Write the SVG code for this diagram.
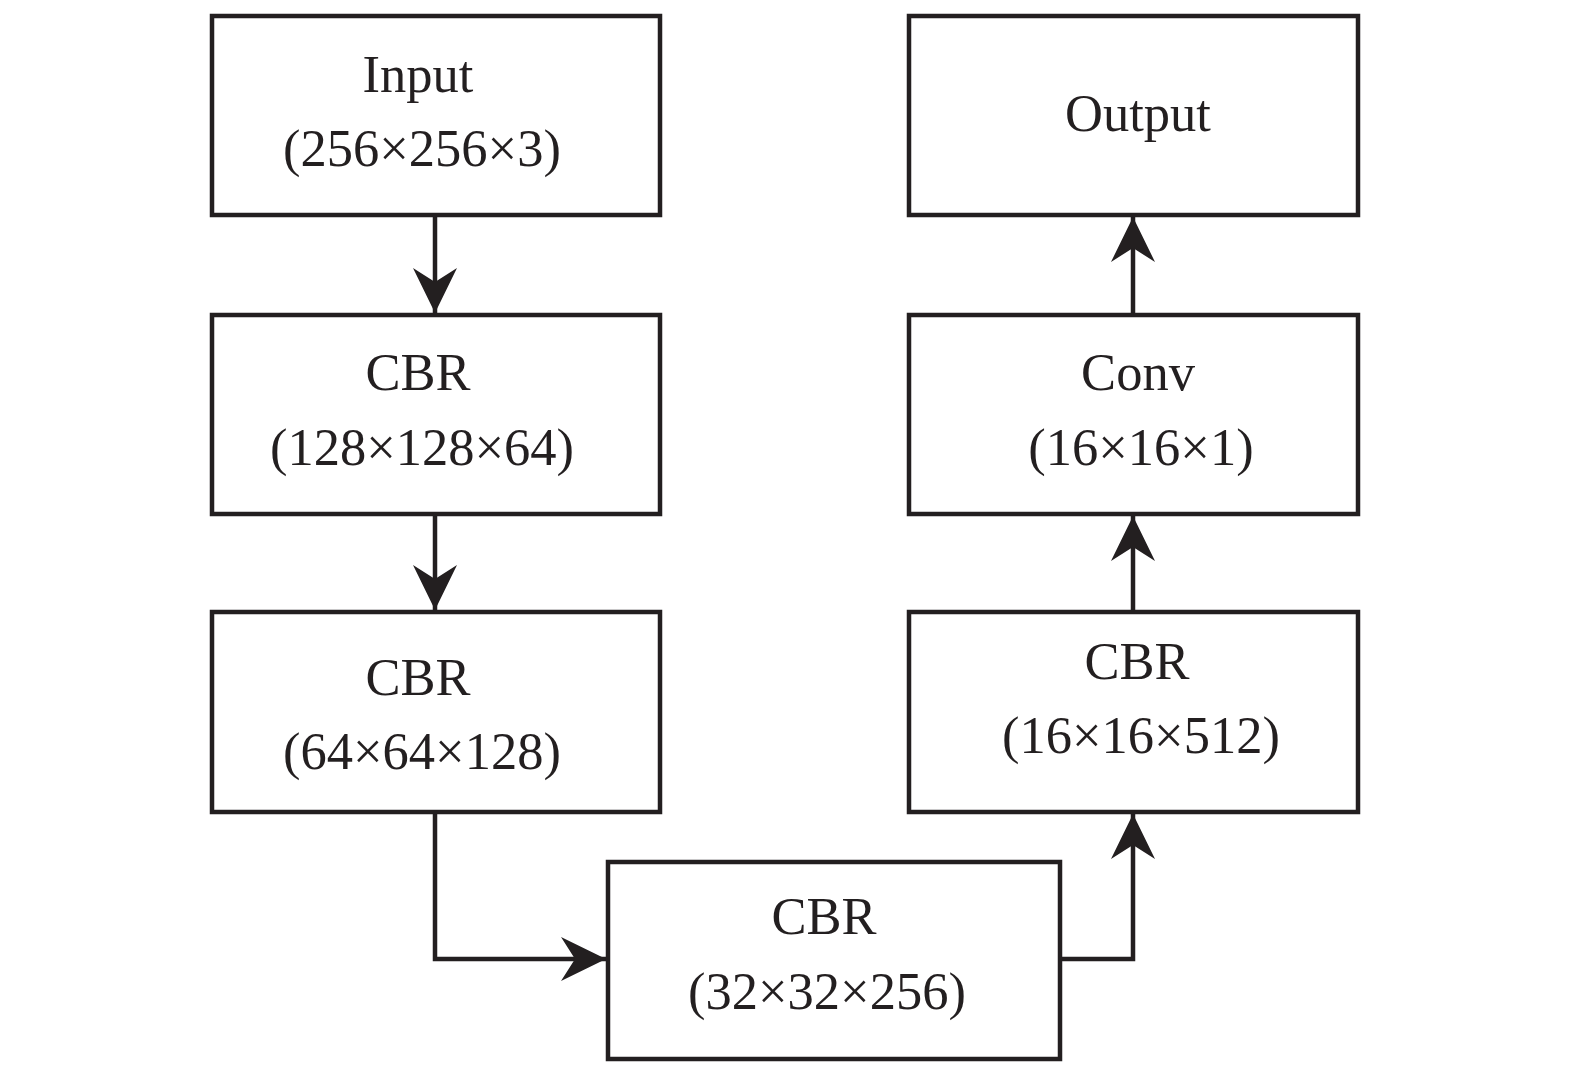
<svg xmlns="http://www.w3.org/2000/svg" width="1575" height="1070" viewBox="0 0 1575 1070">
<style>
.box{fill:#fff;stroke:#231f20;stroke-width:4.5}
.t{font-family:"Liberation Serif","Times New Roman",serif;font-size:52.5px;fill:#231f20;text-anchor:middle}
.c{fill:none;stroke:#231f20;stroke-width:4.5}
</style>
<defs>
<marker id="ah" markerUnits="userSpaceOnUse" viewBox="0 0 45 44" refX="45" refY="22" markerWidth="45" markerHeight="44" orient="auto">
<path d="M0,0 L45,22 L0,44 L14,22 z" fill="#231f20"/>
</marker>
</defs>
<rect width="1575" height="1070" fill="#fff"/>
<g id="connectors">
<path class="c" d="M435,215 V313" marker-end="url(#ah)"/>
<path class="c" d="M435,514 V610" marker-end="url(#ah)"/>
<path class="c" d="M435,812 V959 H606" marker-end="url(#ah)"/>
<path class="c" d="M1060,959 H1133 V814" marker-end="url(#ah)"/>
<path class="c" d="M1133,612 V516" marker-end="url(#ah)"/>
<path class="c" d="M1133,315 V217" marker-end="url(#ah)"/>
</g>
<g id="input">
<rect class="box" x="212" y="16" width="448" height="199"/>
<text class="t" x="418" y="92">Input</text>
<text class="t" x="422" y="166">(256×256×3)</text>
</g>
<g id="cbr1">
<rect class="box" x="212" y="315" width="448" height="199"/>
<text class="t" x="418" y="390">CBR</text>
<text class="t" x="422" y="465">(128×128×64)</text>
</g>
<g id="cbr2">
<rect class="box" x="212" y="612" width="448" height="200"/>
<text class="t" x="418" y="695">CBR</text>
<text class="t" x="422" y="769">(64×64×128)</text>
</g>
<g id="cbr3">
<rect class="box" x="608" y="862" width="452" height="197"/>
<text class="t" x="824" y="934">CBR</text>
<text class="t" x="827" y="1009">(32×32×256)</text>
</g>
<g id="cbr4">
<rect class="box" x="909" y="612" width="449" height="200"/>
<text class="t" x="1137" y="679">CBR</text>
<text class="t" x="1141" y="753">(16×16×512)</text>
</g>
<g id="conv">
<rect class="box" x="909" y="315" width="449" height="199"/>
<text class="t" x="1138" y="390">Conv</text>
<text class="t" x="1141" y="465">(16×16×1)</text>
</g>
<g id="output">
<rect class="box" x="909" y="16" width="449" height="199"/>
<text class="t" x="1138" y="131">Output</text>
</g>
</svg>
